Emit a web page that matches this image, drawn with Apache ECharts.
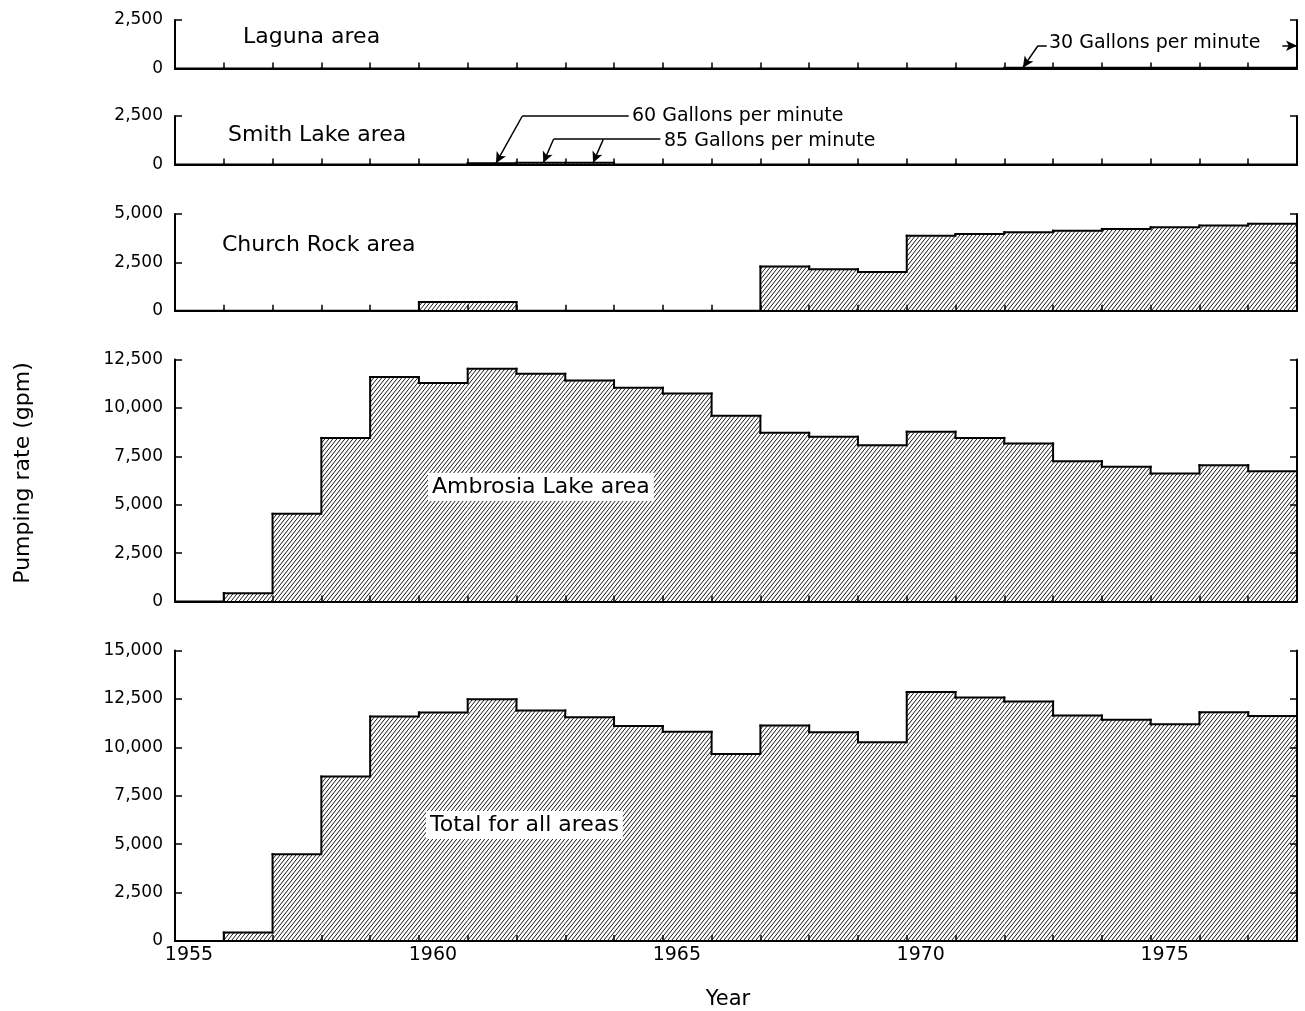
<!DOCTYPE html>
<html><head><meta charset="utf-8">
<script src="https://cdn.jsdelivr.net/npm/echarts@6/dist/echarts.min.js"></script>
<style>html,body{margin:0;padding:0;background:#fff}#c{width:1305px;height:1011px}</style>
</head><body><div id="c"></div>
<script>
// ---------- data ----------
const years = [1955,1956,1957,1958,1959,1960,1961,1962,1963,1964,1965,1966,1967,1968,1969,1970,1971,1972,1973,1974,1975,1976,1977];
const xMin = 1955, xMax = 1978;
const lagunaValues    = [0,0,0,0,0,0,0,0,0,0,0,0,0,0,0,0,0,30,30,30,30,30,30];
const smithLakeValues = [0,0,0,0,0,0,60,85,85,0,0,0,0,0,0,0,0,0,0,0,0,0,0];
const churchRockValues= [0,0,0,0,0,450,450,0,0,0,0,0,2290,2150,2010,3880,3970,4060,4140,4230,4320,4400,4490];
const ambrosiaValues  = [0,430,4530,8450,11590,11280,12020,11760,11420,11040,10740,9590,8710,8510,8070,8770,8450,8160,7250,6960,6610,7040,6730];
const totalValues     = [0,430,4480,8490,11590,11800,12480,11900,11550,11100,10800,9660,11120,10780,10260,12850,12570,12360,11640,11420,11190,11810,11620];
const panelNames = ['Laguna area','Smith Lake area','Church Rock area','Ambrosia Lake area','Total for all areas'];
const panelMax   = [2500,2500,5000,12500,15000];
const yearTickLabels = [1955,1960,1965,1970,1975];
// annotation leader lines (data coordinates: [year, gpm])
const lagunaLeader = [[1972.87,1170],[1972.69,1170],[1972.38,40]];
const lagunaRightArrow = [[1977.7,1170],[1978.0,1170]];
const smith60Leader = [[1964.3,2500],[1962.12,2500],[1961.58,60]];
const smith85Leader = [[1964.95,1300],[1962.76,1300],[1962.55,85]];
const smith85Branch = [[1963.78,1300],[1963.57,85]];

// ---------- layout ----------
const pxPer2500 = 48.4;
const tops = [20,116,214,359.5,650.5];
const gridLeft = 175, gridRight = 8;

// hatch pattern
const pat = document.createElement('canvas');
pat.width = 4; pat.height = 5;
(function(){
  const c = pat.getContext('2d');
  c.fillStyle = '#fff'; c.fillRect(0,0,4,5);
  c.strokeStyle = '#1a1a1a'; c.lineWidth = 1.0;
  c.beginPath();
  c.moveTo(-4,5); c.lineTo(0,0);
  c.moveTo(0,5); c.lineTo(4,0);
  c.moveTo(4,5); c.lineTo(8,0);
  c.stroke();
})();
const hatch = {image:pat, repeat:'repeat'};

function stepItems(vals){
  return years.map((y,i)=>[y, vals[i], i>0 ? vals[i-1] : 0]);
}
function renderStep(params, api){
  const x0 = api.value(0), v = api.value(1), prev = api.value(2);
  const a = api.coord([x0, 0]);
  const b = api.coord([x0 + 1, v]);
  const p = api.coord([x0, prev]);
  const children = [];
  if (b[1] < a[1]) {
    children.push({type:'rect', shape:{x:a[0], y:b[1], width:b[0]-a[0], height:a[1]-b[1]},
      style:{fill:hatch, stroke:null}});
  }
  children.push({type:'line', shape:{x1:a[0], y1:b[1], x2:b[0], y2:b[1]},
    style:{stroke:'#000', lineWidth:2, lineCap:'square'}});
  if (Math.abs(p[1]-b[1]) > 0.01) {
    children.push({type:'line', shape:{x1:a[0], y1:p[1], x2:a[0], y2:b[1]},
      style:{stroke:'#000', lineWidth:2, lineCap:'square'}});
  }
  return {type:'group', children:children};
}
function seg(a,b,arrow){
  return [{coord:a, symbol:'none'},{coord:b, symbol: arrow?'arrow':'none'}];
}
function leader(pts){
  const out=[];
  for(let i=0;i<pts.length-1;i++) out.push(seg(pts[i],pts[i+1], i===pts.length-2));
  return out;
}

const FONT = 'DejaVu Sans';
const grids=[], xAxes=[], yAxes=[], series=[];
const allValues = [lagunaValues, smithLakeValues, churchRockValues, ambrosiaValues, totalValues];
for(let i=0;i<5;i++){
  const h = panelMax[i]/2500*pxPer2500;
  grids.push({left:gridLeft, right:gridRight, top:tops[i], height:h});
  const last = i===4;
  xAxes.push({
    type:'value', gridIndex:i, min:xMin, max:xMax, interval:1,
    axisLine:{show:true, onZero:false, lineStyle:{color:'#000', width:2}},
    axisTick:{show:true, inside:true, length:6, lineStyle:{color:'#000', width:1.5}},
    splitLine:{show:false},
    axisLabel:{show:last, color:'#000', fontFamily:FONT, fontSize:19, margin:5, padding:[0,0,0,28],
      formatter:v=> yearTickLabels.indexOf(v)>=0 ? String(v) : ''},
    z:5
  });
  const yBase = {type:'value', gridIndex:i, min:0, max:panelMax[i], interval:2500,
    axisLine:{show:true, lineStyle:{color:'#000', width:2}},
    axisTick:{show:true, inside:true, length:7, lineStyle:{color:'#000', width:1.5}},
    splitLine:{show:false}, z:5};
  yAxes.push(Object.assign({}, yBase, {position:'left',
    axisLabel:{show:true, color:'#000', fontFamily:FONT, fontSize:17, margin:12,
      formatter:v=>v.toLocaleString('en-US')}}));
  yAxes.push(Object.assign({}, yBase, {position:'right', axisLabel:{show:false}}));
  const s = {
    type:'custom', xAxisIndex:i, yAxisIndex:2*i,
    renderItem: renderStep,
    encode:{x:0, y:1},
    data: stepItems(allValues[i]),
    silent:true, animation:false, z:3, clip:false
  };
  const ml = {silent:true, symbolSize:[8,11], animation:false,
      lineStyle:{color:'#000', width:1.5, type:'solid'}, label:{show:false}};
  if(i===0){
    s.markLine = Object.assign({}, ml, {data: leader(lagunaLeader).concat(leader(lagunaRightArrow))});
  }
  if(i===1){
    s.markLine = Object.assign({}, ml, {data: leader(smith60Leader).concat(leader(smith85Leader), leader(smith85Branch))});
  }
  series.push(s);
}

const T = (text,x,y,size,extra)=>Object.assign({type:'text', x:x, y:y, z:50,
  style:Object.assign({text:text, fill:'#000', font:size+'px "'+FONT+'"', verticalAlign:'middle', align:'left'}, extra||{})});

const graphic = [
  T(panelNames[0], 243, 37, 22),
  T(panelNames[1], 228, 135, 22),
  T(panelNames[2], 222, 245, 22),
  T(panelNames[3], 428, 487, 22, {backgroundColor:'#fff', padding:[3,4]}),
  T(panelNames[4], 426, 825, 22, {backgroundColor:'#fff', padding:[3,4]}),
  T('30 Gallons per minute', 1049, 43, 19),
  T('60 Gallons per minute', 632, 116, 19),
  T('85 Gallons per minute', 664, 141, 19),
  T('Year', 728, 1000, 21, {align:'center'}),
  {type:'text', x:23, y:473, rotation:Math.PI/2, z:50,
    style:{text:'Pumping rate (gpm)', fill:'#000', font:'22px "'+FONT+'"', align:'center', verticalAlign:'middle'}}
];

const chart = echarts.init(document.getElementById('c'), null, {renderer:'canvas'});
chart.setOption({
  backgroundColor:'#fff', animation:false,
  grid:grids, xAxis:xAxes, yAxis:yAxes, series:series, graphic:graphic
});
</script>
</body></html>
